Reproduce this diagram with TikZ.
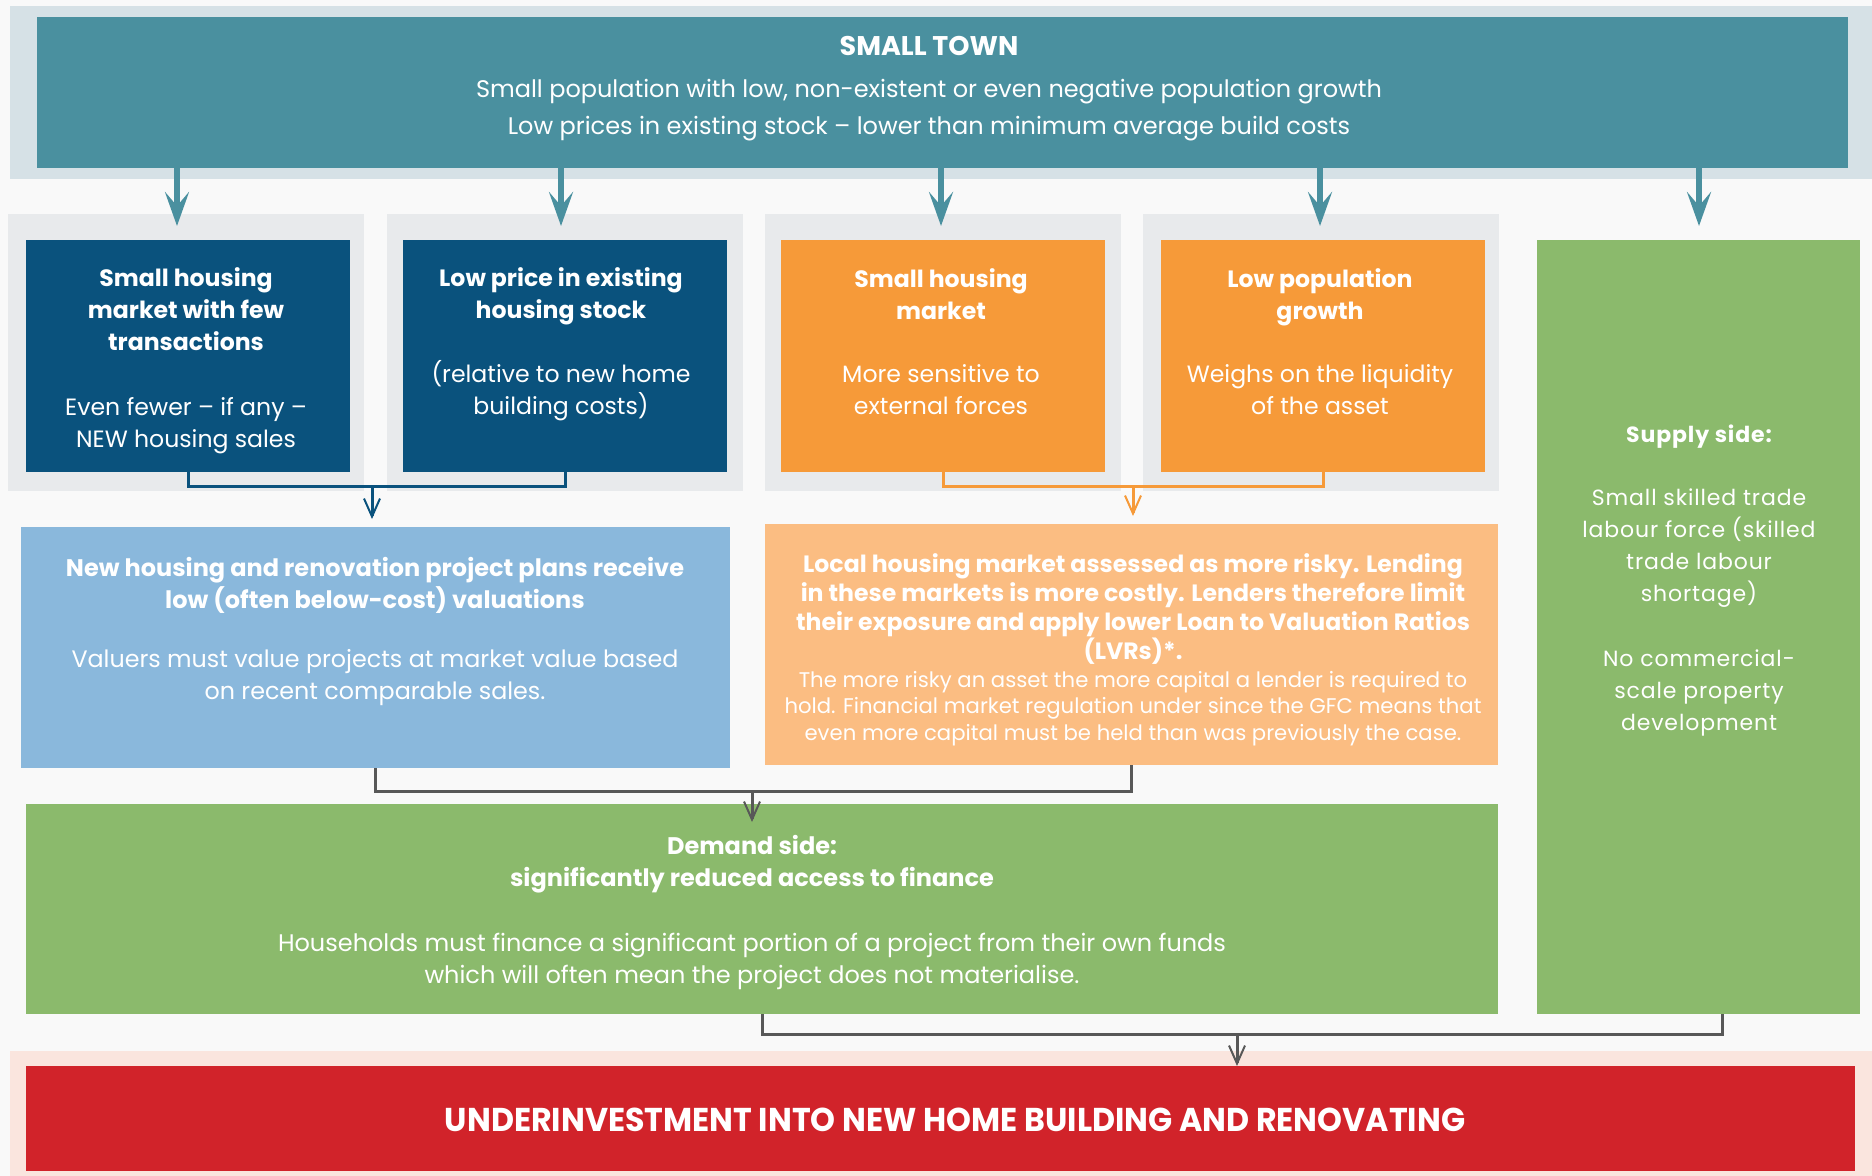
\documentclass[tikz,border=0pt]{standalone}
\usepackage{fontspec}
\usepackage{graphicx}
\setmainfont{Poppins}
\usetikzlibrary{arrows.meta,fit}
\definecolor{bgc}{HTML}{F9F9F9}
\definecolor{bandtop}{HTML}{D6E1E6}
\definecolor{tealc}{HTML}{4A909F}
\definecolor{panelc}{HTML}{E8EAEC}
\definecolor{navyc}{HTML}{0A527D}
\definecolor{orangec}{HTML}{F69A39}
\definecolor{greenc}{HTML}{8BBA6C}
\definecolor{lbluec}{HTML}{8AB8DC}
\definecolor{peachc}{HTML}{FBBD82}
\definecolor{bandbot}{HTML}{FAE5DE}
\definecolor{redc}{HTML}{D1232A}
\definecolor{greyc}{HTML}{585858}
\begin{document}
\begin{tikzpicture}[x=0.5pt,y=-0.5pt,
  box/.style={inner sep=0pt,outer sep=0pt,draw=none},
  txt/.style={text=white,align=center,inner sep=0pt},
  ttl/.style={txt,font=\bfseries\fontsize{11.8}{16}\selectfont},
  bdy/.style={txt,font=\fontsize{11.8}{16}\selectfont},
  tarrow/.style={tealc,line width=3pt,-{Stealth[length=17pt,width=12pt,inset=7pt]}},
  conn/.style={line width=1.5pt},
  conntip/.style={line width=1.5pt,-{Straight Barb[length=9pt,width=8pt,line width=1pt]}}]
\useasboundingbox (0,0) rectangle (1872,1176);
\fill[bgc] (0,0) rectangle (1872,1176);
% bands and panels
\node[box,fill=bandtop,fit={(10,6) (1872,179)}] (band) {};
\node[box,fill=bandbot,fit={(10,1051) (1872,1176)}] (bandb) {};
\node[box,fill=panelc,fit={(8,214) (364,491)}] (p1) {};
\node[box,fill=panelc,fit={(387,214) (743,491)}] (p2) {};
\node[box,fill=panelc,fit={(765,214) (1121,491)}] (p3) {};
\node[box,fill=panelc,fit={(1143,214) (1499,491)}] (p4) {};
% boxes
\node[box,fill=tealc,fit={(37,17) (1848,168)}] (top) {};
\node[box,fill=navyc,fit={(26,240) (350,472)}] (b1) {};
\node[box,fill=navyc,fit={(403,240) (727,472)}] (b2) {};
\node[box,fill=orangec,fit={(781,240) (1105,472)}] (b3) {};
\node[box,fill=orangec,fit={(1161,240) (1485,472)}] (b4) {};
\node[box,fill=greenc,fit={(1537,240) (1860,1014)}] (sp) {};
\node[box,fill=lbluec,fit={(21,527) (730,768)}] (lb) {};
\node[box,fill=peachc,fit={(765,524) (1498,765)}] (pe) {};
\node[box,fill=greenc,fit={(26,804) (1498,1014)}] (dm) {};
\node[box,fill=redc,fit={(26,1066) (1855,1171)}] (rd) {};
% top arrows
\foreach \i/\x in {1/177,2/561,3/941,4/1320,5/1699}{
  \coordinate (a\i) at (\x,226);
  \draw[tarrow] (top.south -| a\i) -- (a\i);
}
% navy connector
\coordinate (bj) at (372,486);
\draw[conn,navyc] (b1.south) -- (b1.south |- bj) -- (b2.south |- bj) -- (b2.south);
\draw[conntip,navyc] (bj) -- ([yshift=4pt]bj |- lb.north);
% orange connector
\coordinate (oj) at (1133,486);
\draw[conn,orangec] (b3.south) -- (b3.south |- oj) -- (b4.south |- oj) -- (b4.south);
\draw[conntip,orangec] (oj) -- ([yshift=4pt]oj |- pe.north);
% grey connector
\coordinate (gj) at (752,791);
\coordinate (gt) at (752,822);
\draw[conn,greyc] (lb.south) -- (lb.south |- gj) -- (pe.south |- gj) -- (pe.south);
\draw[conntip,greyc] (gj) -- (gt);
% lower connector
\coordinate (lj) at (1237,1034);
\coordinate (dl) at (762,1034);
\coordinate (sl) at (1722,1034);
\draw[conn,greyc] (dm.south -| dl) -- (dl) -- (sl) -- (sp.south -| sl);
\draw[conntip,greyc] (lj) -- (lj |- rd.north);
% texts
\node[txt,font=\bfseries\fontsize{13.5}{18}\selectfont] (t0) at (929,46) {SMALL TOWN};
\node[txt,font=\fontsize{12}{18.5}\selectfont] (t0b) at (929,110) {Small population with low, non-existent or even negative population growth\\Low prices in existing stock – lower than minimum average build costs};
\node[ttl] (t1) at (186,309) {Small housing\\market with few\\transactions};
\node[bdy] (t1b) at (186,425.5) {Even fewer – if any –\\NEW housing sales};
\node[ttl] (t2) at (561,296.5) {Low price in existing\\housing stock};
\node[bdy] (t2b) at (561,391) {(relative to new home\\building costs)};
\node[ttl] (t3) at (941,294) {Small housing\\market};
\node[bdy] (t3b) at (941,390) {More sensitive to\\external forces};
\node[ttl] (t4) at (1320,297.5) {Low population\\growth};
\node[bdy] (t4b) at (1320,390) {Weighs on the liquidity\\of the asset};
\node[txt,font=\bfseries\fontsize{12}{16}\selectfont] (t5) at (375,585) {New housing and renovation project plans receive\\low (often below-cost) valuations};
\node[txt,font=\fontsize{11.9}{16}\selectfont] (t5b) at (375,677.5) {Valuers must value projects at market value based\\on recent comparable sales.};
\node[txt,font=\bfseries\fontsize{11.8}{14.5}\selectfont] (t6) at (1133,609.5) {Local housing market assessed as more risky. Lending\\in these markets is more costly. Lenders therefore limit\\their exposure and apply lower Loan to Valuation Ratios\\(LVRs)*.};
\node[txt,font=\fontsize{10.6}{13.25}\selectfont] (t6b) at (1133,708.5) {The more risky an asset the more capital a lender is required to\\hold. Financial market regulation under since the GFC means that\\even more capital must be held than was previously the case.};
\node[txt,font=\bfseries\fontsize{12}{16}\selectfont] (t7) at (752,864) {Demand side:\\significantly reduced access to finance};
\node[txt,font=\fontsize{12}{16}\selectfont] (t7b) at (752,961.5) {Households must finance a significant portion of a project from their own funds\\which will often mean the project does not materialise.};
\node[txt,font=\bfseries\fontsize{11}{16}\selectfont\addfontfeature{LetterSpace=4}] (t8) at (1699,436.5) {Supply side:};
\node[txt,font=\fontsize{11}{16}\selectfont\addfontfeature{LetterSpace=4}] (t8b) at (1699,548.5) {Small skilled trade\\labour force (skilled\\trade labour\\shortage)};
\node[txt,font=\fontsize{11}{16}\selectfont\addfontfeature{LetterSpace=4}] (t8c) at (1699,693) {No commercial-\\scale property\\development};
\node[txt,font=\bfseries\fontsize{16.5}{18}\selectfont] (t9) at (955,1120) {\scalebox{0.96}[1]{UNDERINVESTMENT INTO NEW HOME BUILDING AND RENOVATING}};
\end{tikzpicture}
\end{document}
